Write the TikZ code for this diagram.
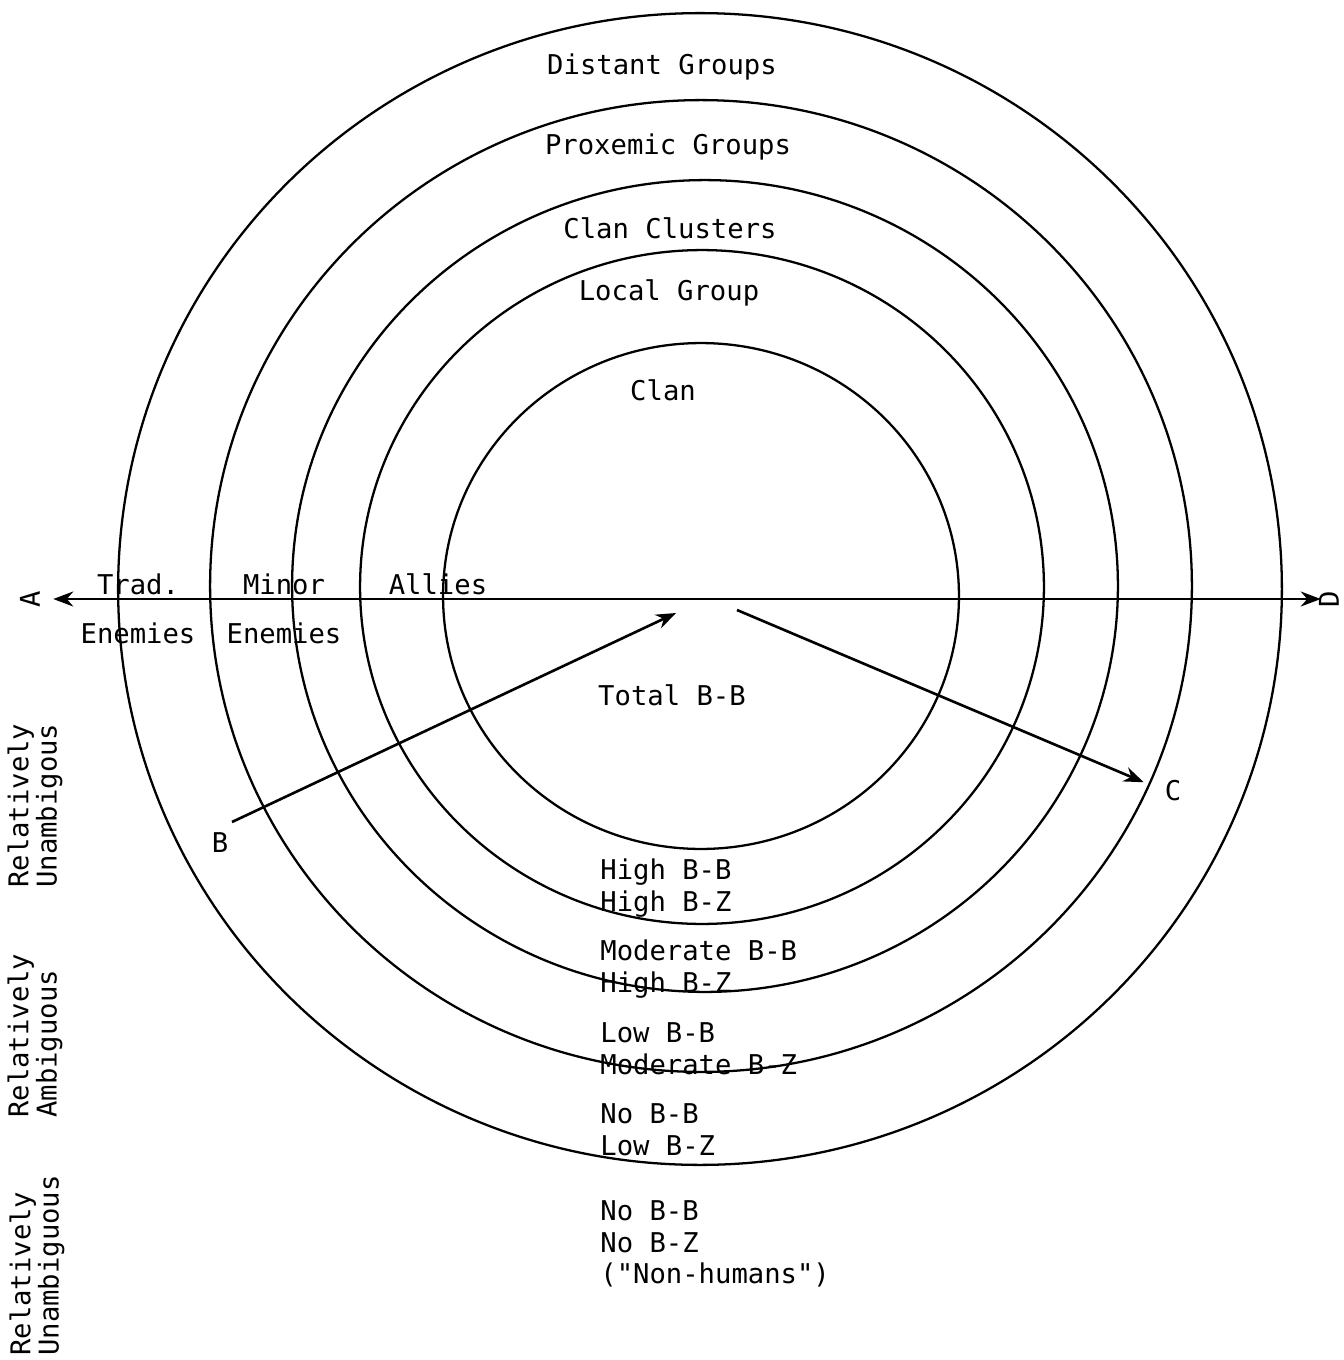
\documentclass[tikz,border=0pt]{standalone}
\usepackage{fontspec}
\setmonofont{DejaVu Sans Mono}
\usetikzlibrary{arrows.meta}
\begin{document}
\begin{tikzpicture}[x=0.02cm,y=-0.02cm,
  >={Stealth[length=0.4cm,width=0.3cm]},
  ring/.style={line width=1.3pt},
  pointer/.style={line width=1.5pt,->},
  lbl/.style={font=\ttfamily\fontsize{15.5}{18}\selectfont,inner sep=0pt},
  zone/.style={lbl,align=left,anchor=west},
  side/.style={font=\ttfamily\fontsize{15.5}{13}\selectfont,inner sep=0pt,align=left,rotate=90,anchor=west}]
\useasboundingbox (0,0) rectangle (1344,1360);
% rings
\draw[ring] (701,596) ellipse [x radius=5.16cm, y radius=5.06cm];
\draw[ring] (702,587) ellipse [x radius=6.84cm, y radius=6.74cm];
\draw[ring] (705,586) ellipse [x radius=8.26cm, y radius=8.12cm];
\draw[ring] (701,586) ellipse [x radius=9.82cm, y radius=9.72cm];
\draw[ring] (700,589) ellipse [x radius=11.64cm, y radius=11.52cm];
% ring names
\node[lbl] (distant) at (662,67) {Distant Groups};
\node[lbl] (proxemic) at (668,147) {Proxemic Groups};
\node[lbl] (clusters) at (670,228) {Clan Clusters};
\node[lbl] (local) at (669,293) {Local Group};
\node[lbl] (clan) at (663,390) {Clan};
% axis
\node[lbl,rotate=90] (A) at (30,599) {A};
\node[lbl,rotate=90] (D) at (1329,599) {D};
\draw[line width=1.5pt,<->,shorten <=0.26cm,shorten >=-0.04cm] (A) -- (D);
\node[lbl] (trad) at (138,584) {Trad.};
\node[lbl] (tradEn) at (138,633) {Enemies};
\node[lbl] (minor) at (284,584) {Minor};
\node[lbl] (minorEn) at (284,633) {Enemies};
\node[lbl] (allies) at (438,584) {Allies};
% B and C arrows
\node[lbl] (B) at (220,843) {B};
\node[lbl] (C) at (1173,791) {C};
\coordinate (tailB) at (232,822);
\coordinate (hubB) at (676,613);
\coordinate (tailC) at (737,610);
\draw[pointer] (tailB) -- (hubB);
\draw[pointer,shorten >=0.45cm] (tailC) -- (C.west);
% interaction levels
\node[lbl] (total) at (672,695) {Total B-B};
\node[zone] (high) at (600,888) {High B-B\\High B-Z};
\node[zone] (moderate) at (600,969) {Moderate B-B\\High B-Z};
\node[zone] (low) at (600,1049) {Low B-B\\Moderate B-Z};
\node[zone] (nobb) at (600,1130) {No B-B\\Low B-Z};
\node[zone] (nonhuman) at (600,1244) {No B-B\\No B-Z\\("Non-humans")};
% side scale
\node[side] (unamb1) at (35,888) {Relatively\\Unambigous};
\node[side] (amb) at (35,1118) {Relatively\\Ambiguous};
\node[side] (unamb2) at (37,1356) {Relatively\\Unambiguous};
\end{tikzpicture}
\end{document}
